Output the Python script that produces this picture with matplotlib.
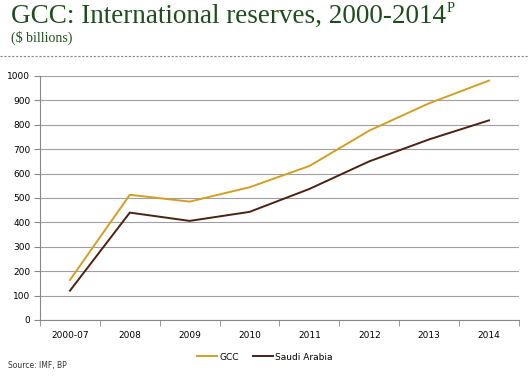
import matplotlib.pyplot as plt
import numpy as np

# data
categories = ["2000-07", "2008", "2009", "2010", "2011", "2012", "2013", "2014"]
gcc = [164, 513, 485, 544, 631, 776, 888, 981]
saudi = [120, 440, 406, 443, 537, 650, 740, 818]

fig = plt.figure(figsize=(5.28, 3.76), dpi=100)
ax = fig.add_axes([0.0758, 0.149, 0.907, 0.649])

x = np.arange(len(categories))
ax.plot(x, gcc, color="#D0A024", lw=1.4, label="GCC")
ax.plot(x, saudi, color="#4A2210", lw=1.4, label="Saudi Arabia")

ax.set_xlim(-0.5, len(categories) - 0.5)
ax.set_ylim(0, 1000)
ax.set_yticks(range(0, 1001, 100))
ax.set_xticks(x)
ax.set_xticklabels(categories)
ax.set_xticks(np.arange(-0.5, len(categories)), minor=True)
ax.tick_params(axis="x", which="major", length=0, pad=8, labelsize=6.5)
ax.tick_params(axis="x", which="minor", length=4, color="#888888", direction="out")
ax.tick_params(axis="y", length=4, color="#888888", labelsize=6.5, pad=3)
ax.grid(axis="y", color="#a0a0a0", lw=0.8)
ax.set_axisbelow(True)
for s in ["top", "right"]:
    ax.spines[s].set_visible(False)
for s in ["left", "bottom"]:
    ax.spines[s].set_color("#888888")

ax.legend(loc="upper center", bbox_to_anchor=(0.47, -0.1), ncol=2, frameon=False,
          fontsize=6.5, handlelength=2.2, handletextpad=0.3, columnspacing=1.5)

green = "#1E4D1E"
t = fig.text(0.02, 0.938, "GCC: International reserves, 2000-2014",
             fontsize=19.5, family="Liberation Serif", color=green)
fig.canvas.draw()
bb = t.get_window_extent().transformed(fig.transFigure.inverted())
fig.text(bb.x1 + 0.002, 0.968, "P", fontsize=10.5, family="Liberation Serif", color=green)
fig.text(0.02, 0.89, "($ billions)", fontsize=10, family="Liberation Serif", color=green)
fig.add_artist(plt.Line2D([0.0, 1.0], [0.85, 0.85], transform=fig.transFigure,
                          color="#888888", lw=0.8, ls=(0, (2, 1.5))))
fig.text(0.015, 0.022, "Source: IMF, BP", fontsize=5.5, color="#333333")

fig.savefig("out.png", dpi=100)
